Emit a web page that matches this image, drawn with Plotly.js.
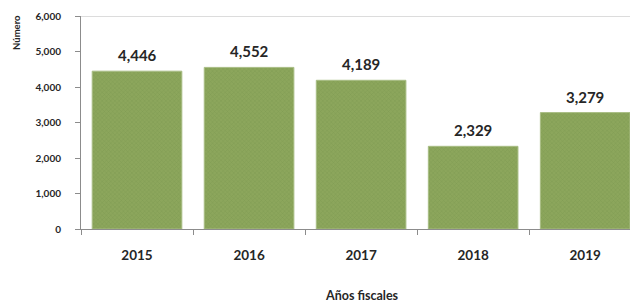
<!DOCTYPE html>
<html>
<head>
<meta charset="utf-8">
<script src="https://cdn.plot.ly/plotly-3.0.1.min.js"></script>
<style>html,body{margin:0;padding:0;background:#fff;overflow:hidden}#chart{width:630px;height:303px}</style>
</head>
<body>
<div id="chart"></div>
<script>
const years = ['2015', '2016', '2017', '2018', '2019'];
const counts = [4446, 4552, 4189, 2329, 3279];
const yTickVals = [0, 1000, 2000, 3000, 4000, 5000, 6000];
const yTickText = ['0', '1,000', '2,000', '3,000', '4,000', '5,000', '6,000'];
const yTitle = 'Número';
const xTitle = 'Años fiscales';

const FONT = 'Lato, "Open Sans", sans-serif';
const TXT = '#262626';

function fmt(v) { return String(v).replace(/\B(?=(\d{3})+(?!\d))/g, ','); }

const trace = {
  type: 'bar',
  x: years,
  y: counts,
  marker: {
    color: '#8ca65c',
    line: {color: '#a8bd84', width: 1},
    pattern: {shape: 'x', size: 3, solidity: 0.25, fgcolor: '#7e9850', bgcolor: '#8ca65c'}
  },
  hoverinfo: 'none'
};

// category axis: annotation x given as category index (numeric-like strings are read as indices)
const valueLabels = years.map((yr, i) => ({
  text: fmt(counts[i]),
  x: years.indexOf(yr), y: counts[i], xref: 'x', yref: 'y',
  showarrow: false, xanchor: 'center', yanchor: 'bottom', yshift: 5,
  font: {family: FONT, size: 15, color: TXT, weight: 'bold'}
}));

const layout = {
  width: 630,
  height: 303,
  margin: {l: 81, r: 0, t: 16, b: 74},
  paper_bgcolor: '#ffffff',
  plot_bgcolor: '#ffffff',
  showlegend: false,
  bargap: 0.2,
  font: {family: FONT, color: TXT},
  xaxis: {
    type: 'category',
    range: [-0.5, 4.4],
    showgrid: false,
    showline: true,
    linecolor: '#8c8c8c',
    linewidth: 1,
    ticks: 'outside',
    tickson: 'boundaries',
    ticklen: 5,
    tickcolor: '#8c8c8c',
    ticklabelstandoff: 14,
    tickfont: {family: FONT, size: 13.5, color: TXT, weight: 'bold'},
    zeroline: false,
    fixedrange: true
  },
  yaxis: {
    range: [0, 6000],
    tickvals: yTickVals,
    ticktext: yTickText,
    showgrid: false,
    zeroline: false,
    showline: true,
    linecolor: '#8c8c8c',
    linewidth: 1,
    ticks: 'outside',
    ticklen: 5,
    tickcolor: '#8c8c8c',
    ticklabelstandoff: 12,
    tickfont: {family: FONT, size: 10, color: TXT, weight: 'bold'},
    fixedrange: true
  },
  shapes: [{
    type: 'line', xref: 'paper', yref: 'y',
    x0: 0, x1: 1, y0: yTickVals[yTickVals.length - 1], y1: yTickVals[yTickVals.length - 1],
    line: {color: '#d0d0d0', width: 1.5}
  }],
  annotations: valueLabels.concat([
    {
      text: yTitle, xref: 'paper', yref: 'paper',
      x: -0.1166, y: 0.925, textangle: -90, showarrow: false,
      xanchor: 'center', yanchor: 'middle',
      font: {family: FONT, size: 9.5, color: TXT, weight: 'bold'}
    },
    {
      text: xTitle, xref: 'paper', yref: 'paper',
      x: 0.512, y: -0.31, showarrow: false,
      xanchor: 'center', yanchor: 'middle',
      font: {family: FONT, size: 12.5, color: TXT, weight: 'bold'}
    }
  ])
};

Plotly.newPlot('chart', [trace], layout, {displayModeBar: false, staticPlot: true});
</script>
</body>
</html>
